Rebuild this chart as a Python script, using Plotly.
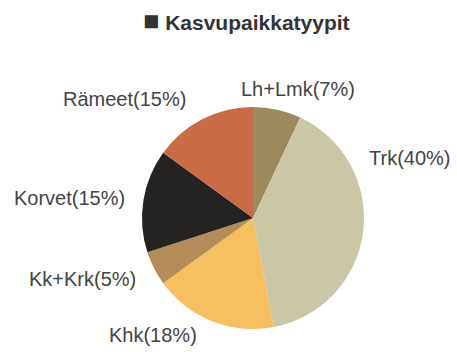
import plotly.graph_objects as go

# Habitat type shares (%), clockwise from 12 o'clock
labels = ["Lh+Lmk", "Trk", "Khk", "Kk+Krk", "Korvet", "Rämeet"]
values = [7, 40, 18, 5, 15, 15]
colors = ["#9c8a5a", "#c9c7a6", "#f6c060", "#b48c58", "#252322", "#c96c45"]

# Label anchor points in pixels (x, y from top)
label_pos = [(298, 89), (409, 158), (153, 335), (82, 279), (69, 198), (125, 99)]

W, H = 457, 352
cx, cy, r = 253, 218, 111

fig = go.Figure(go.Pie(
    labels=labels,
    values=values,
    sort=False,
    direction="clockwise",
    rotation=0,
    textinfo="none",
    hoverinfo="label+percent",
    marker=dict(colors=colors, line=dict(width=0)),
    domain=dict(x=[(cx - r) / W, (cx + r) / W],
                y=[1 - (cy + r) / H, 1 - (cy - r) / H]),
    showlegend=False,
))

annotations = []
for lab, val, (px, py) in zip(labels, values, label_pos):
    annotations.append(dict(
        text=f"{lab}({val}%)", x=px / W, y=1 - py / H,
        xref="paper", yref="paper", xanchor="center", yanchor="middle",
        showarrow=False,
        font=dict(family="Liberation Sans, Arial, sans-serif", size=20, color="#444444"),
    ))

annotations.append(dict(
    text="<span style='font-size:27px'>■</span><b> Kasvupaikkatyypit</b>",
    x=246 / W, y=1 - 21 / H,
    xref="paper", yref="paper", xanchor="center", yanchor="middle",
    showarrow=False,
    font=dict(family="Liberation Sans, Arial, sans-serif", size=21, color="#333333"),
))

fig.update_layout(
    width=W, height=H,
    margin=dict(l=0, r=0, t=0, b=0),
    paper_bgcolor="white",
    plot_bgcolor="white",
    annotations=annotations,
)

fig.write_html("out.html")
